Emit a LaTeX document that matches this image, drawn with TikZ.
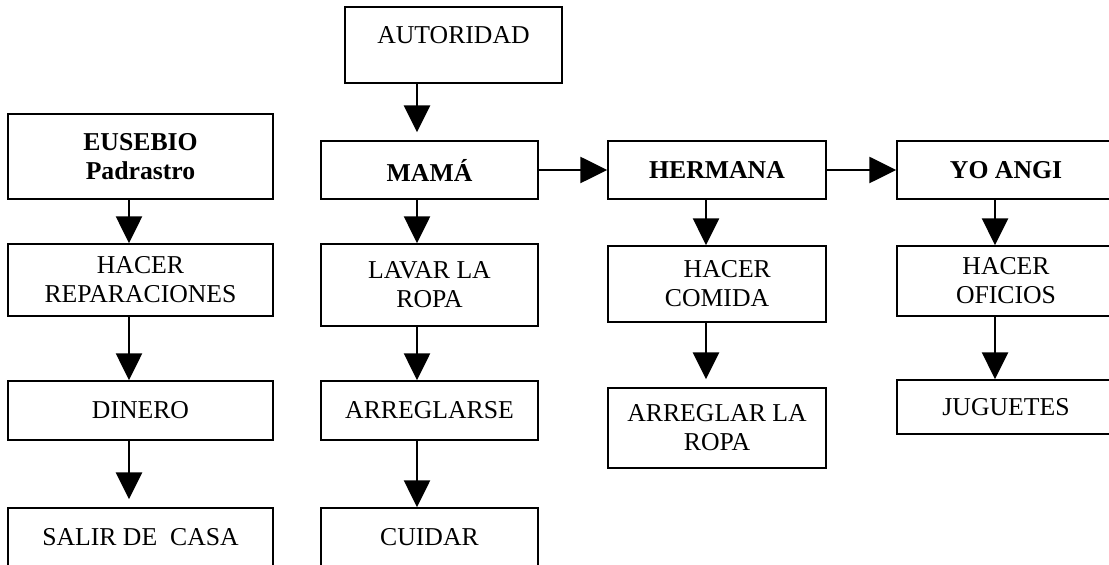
\documentclass[tikz,border=0pt]{standalone}
\usepackage{fontspec}
\setmainfont{Liberation Serif}
\usetikzlibrary{arrows.meta}
\newcommand{\pxu}{0.0164cm}
\tikzset{
  caja/.style={draw,line width=0.8pt,inner sep=0pt,align=center,font=\fontsize{12}{13.5}\selectfont},
  jefe/.style={caja,font=\fontsize{12}{13.5}\selectfont\bfseries},
  flecha/.style={line width=0.8pt,-{Triangle[length=0.44cm,width=0.43cm]}},
  corta/.style={shorten >=0.13cm},
}

\begin{document}
\begin{tikzpicture}[x=\pxu,y=-\pxu]
            \useasboundingbox (0,0) rectangle (1109,565);
            \clip (0,0) rectangle (1109,565);
            \coordinate (x1) at (129,0);
            \coordinate (x2) at (417,0);
            \coordinate (x3) at (706,0);
            \coordinate (x4) at (995,0);
            \node[caja,minimum width=217*\pxu,minimum height=76*\pxu] (aut) at (453.5,45) {AUTORIDAD\\[-4pt]~};
            \node[jefe,minimum width=265*\pxu,minimum height=85*\pxu] (eusebio) at (140.5,156.5) {EUSEBIO\\Padrastro};
            \node[jefe,minimum width=217*\pxu,minimum height=58*\pxu] (mama) at (429.5,170) {MAMÁ};
            \node[jefe,minimum width=218*\pxu,minimum height=58*\pxu] (hermana) at (717,170) {HERMANA};
            \node[jefe,minimum width=218*\pxu,minimum height=58*\pxu] (yo) at (1006,170) {YO ANGI};
            \node[caja,minimum width=265*\pxu,minimum height=72*\pxu] (reparar) at (140.5,280) {HACER\\REPARACIONES};
            \node[caja,minimum width=217*\pxu,minimum height=82*\pxu] (lavar) at (429.5,285) {LAVAR LA\\ROPA};
            \node[caja,minimum width=218*\pxu,minimum height=76*\pxu] (comida) at (717,284) {\hspace*{0.8em}HACER\\COMIDA};
            \node[caja,minimum width=218*\pxu,minimum height=70*\pxu] (oficios) at (1006,281) {HACER\\OFICIOS};
            \node[caja,minimum width=265*\pxu,minimum height=59*\pxu] (dinero) at (140.5,410.5) {DINERO};
            \node[caja,minimum width=217*\pxu,minimum height=59*\pxu] (arreglarse) at (429.5,410.5) {ARREGLARSE};
            \node[caja,minimum width=218*\pxu,minimum height=80*\pxu] (ropa) at (717,428) {ARREGLAR LA\\ROPA};
            \node[caja,minimum width=218*\pxu,minimum height=54*\pxu] (juguetes) at (1006,407) {JUGUETES};
            \node[caja,minimum width=265*\pxu,minimum height=78*\pxu] (salir) at (140.5,547) {SALIR DE~~CASA\\[-4pt]~};
            \node[caja,minimum width=217*\pxu,minimum height=78*\pxu] (cuidar) at (429.5,547) {CUIDAR\\[-4pt]~};
            \draw[flecha,corta] (aut.south -| x2) -- (mama.north -| x2);
            \draw[flecha] (mama) -- (hermana);
            \draw[flecha] (hermana) -- (yo);
            \draw[flecha] (eusebio.south -| x1) -- (reparar.north -| x1);
            \draw[flecha] (reparar.south -| x1) -- (dinero.north -| x1);
            \draw[flecha,corta] (dinero.south -| x1) -- (salir.north -| x1);
            \draw[flecha] (mama.south -| x2) -- (lavar.north -| x2);
            \draw[flecha] (lavar.south -| x2) -- (arreglarse.north -| x2);
            \draw[flecha] (arreglarse.south -| x2) -- (cuidar.north -| x2);
            \draw[flecha] (hermana.south -| x3) -- (comida.north -| x3);
            \draw[flecha,corta] (comida.south -| x3) -- (ropa.north -| x3);
            \draw[flecha] (yo.south -| x4) -- (oficios.north -| x4);
            \draw[flecha] (oficios.south -| x4) -- (juguetes.north -| x4);
        \end{tikzpicture}
\end{document}
